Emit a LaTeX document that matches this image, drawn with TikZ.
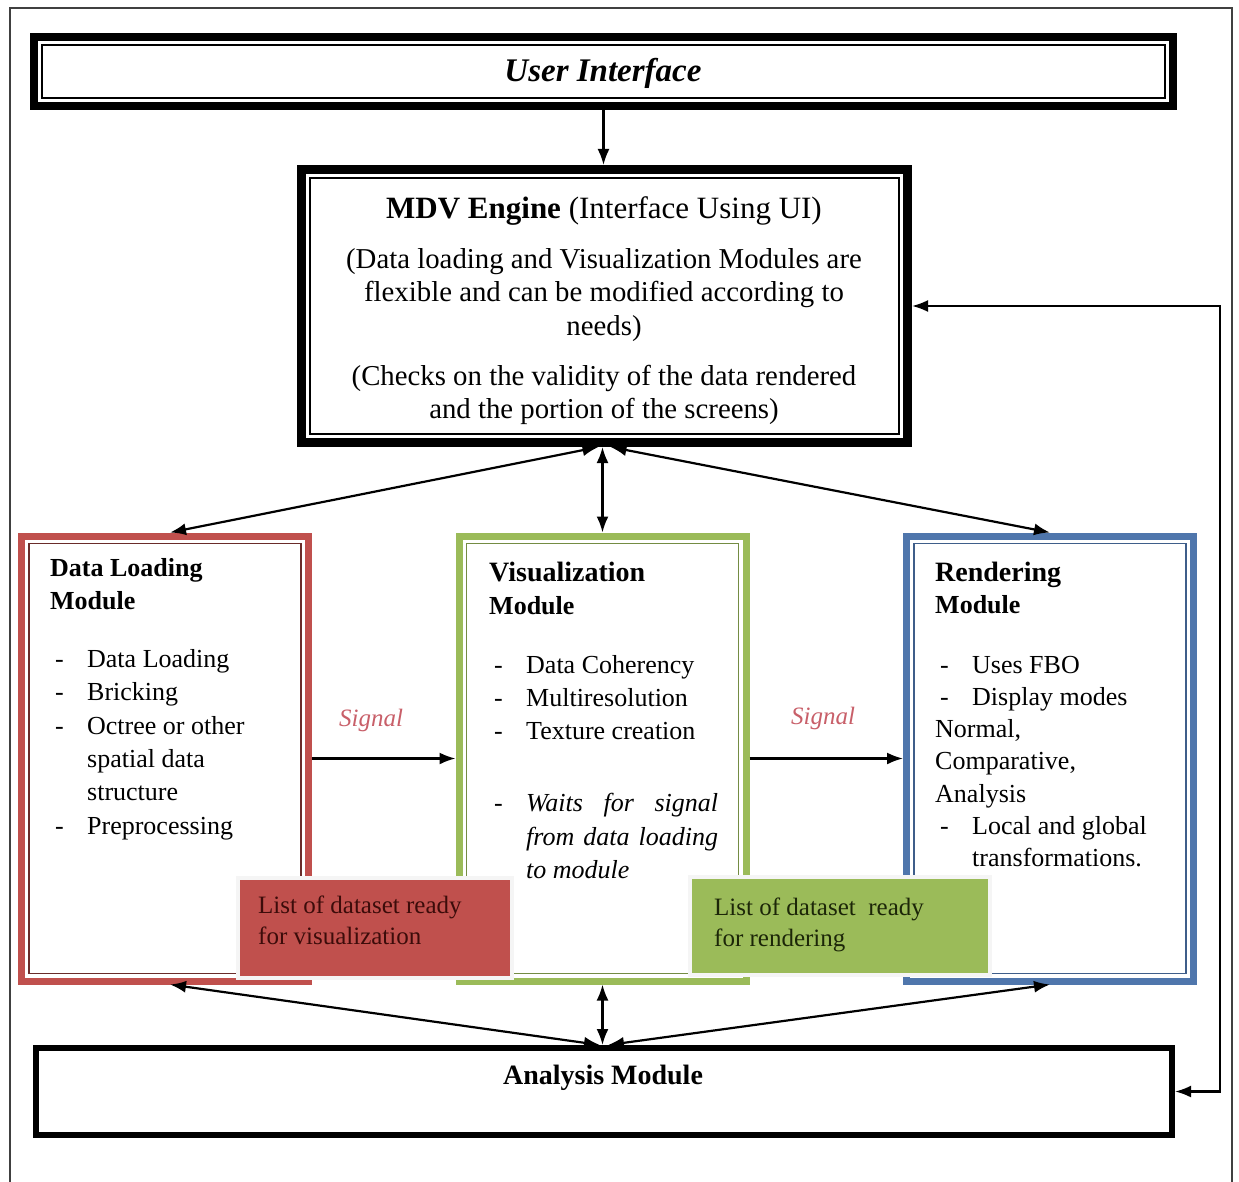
\documentclass[tikz,border=0pt]{standalone}
\usepackage{fontspec}
\setmainfont{Liberation Serif}
\usetikzlibrary{arrows.meta,calc}

\definecolor{dlred}{RGB}{192,80,77}
\definecolor{visgreen}{RGB}{155,187,89}
\definecolor{rendblue}{RGB}{79,118,172}
\definecolor{signalred}{RGB}{200,95,105}
\definecolor{redink}{RGB}{60,12,10}
\definecolor{greenink}{RGB}{28,38,8}

% list helpers: dash column and hanging indent
\newcommand\itemdash{\makebox[37pt][l]{\hspace{5pt}-}}
\newcommand\itemind{\hspace*{37pt}}

\begin{document}
\begin{tikzpicture}[x=1pt,y=-1pt,
  blackbox/.style={draw=black, fill=white, inner sep=0pt},
  module/.style={draw=#1, line width=7pt, fill=white, inner sep=0pt,
                 minimum width=287pt, minimum height=445pt},
  innerline/.style={draw=#1, line width=1.2pt},
  overlay/.style={draw=white!92!gray, line width=4pt, fill=#1, inner sep=0pt},
  bodytext/.style={inner sep=0pt, align=left, anchor=north west,
                   font=\fontsize{26}{33.4}\selectfont},
  overtext/.style={inner sep=0pt, align=left, anchor=north west,
                   font=\fontsize{25}{31.5}\selectfont},
  signal/.style={inner sep=0pt, text=signalred, font=\fontsize{25}{30}\selectfont\itshape},
  conn/.style={draw=black, line width=2.2pt},
  >={Latex[length=16pt,width=12pt]}
]
\useasboundingbox (0,0) rectangle (1239,1182);

% outer frame
\draw[draw=black!75, line width=1.3pt] (10,1182) -- (10,8) -- (1232,8) -- (1232,1182);

% user interface bar
\node[blackbox, line width=8pt, minimum width=1139pt, minimum height=69pt] (ui) at (603.5,71.5) {};
\draw[innerline=black] ([shift={(12,12)}]ui.north west) rectangle ([shift={(-12,-12)}]ui.south east);
\node[inner sep=0pt, font=\fontsize{33}{38}\selectfont\bfseries\itshape] (uitext) at (603,73) {User Interface};

% engine box
\node[blackbox, line width=9pt, minimum width=606pt, minimum height=273pt] (mdv) at (604.5,306) {};
\draw[innerline=black] ([shift={(13,13)}]mdv.north west) rectangle ([shift={(-13,-13)}]mdv.south east);
\node[inner sep=0pt, anchor=base, font=\fontsize{31}{36}\selectfont] (mdvtitle) at (604,219)
  {\textbf{MDV Engine} (Interface Using UI)};
\node[inner sep=0pt, align=center, anchor=north, font=\fontsize{28.8}{33.4}\selectfont] (mdvbody) at (604,248)
  {\rule{0pt}{20pt}(Data loading and Visualization Modules are\\
   flexible and can be modified according to\\
   needs)\\[17pt]
   (Checks on the validity of the data rendered\\
   and the portion of the screens)};

% three modules
\node[module=dlred] (dl) at (165,758.5) {};
\draw[innerline=dlred!55!black] ([shift={(11,11)}]dl.north west) rectangle ([shift={(-11,-11)}]dl.south east);
\node[module=visgreen] (vis) at (602.5,758.5) {};
\draw[innerline=visgreen!75!black] ([shift={(11,11)}]vis.north west) rectangle ([shift={(-11,-11)}]vis.south east);
\node[module=rendblue] (rend) at (1050,758.5) {};
\draw[innerline=rendblue!80!black] ([shift={(11,11)}]rend.north west) rectangle ([shift={(-11,-11)}]rend.south east);

\node[bodytext] (dltext) at (50,556)
  {\rule{0pt}{20pt}\textbf{Data Loading}\\
   \textbf{Module}\\[24.2pt]
   \itemdash Data Loading\\
   \itemdash Bricking\\
   \itemdash Octree or other\\
   \itemind spatial data\\
   \itemind structure\\
   \itemdash Preprocessing};

\node[bodytext] (vistext) at (489,561)
  {\rule{0pt}{20pt}{\fontsize{28}{33.4}\selectfont\textbf{Visualization}}\\
   \textbf{Module}\\[25pt]
   \itemdash Data Coherency\\
   \itemdash Multiresolution\\
   \itemdash Texture creation\\[38.6pt]
   \itemdash\textit{\makebox[192pt][s]{Waits for signal}}\\
   \itemind\textit{\makebox[192pt][s]{from data loading}}\\
   \itemind\textit{to module}};

\node[bodytext, font=\fontsize{26}{32.2}\selectfont] (rendtext) at (935,561)
  {\rule{0pt}{20pt}{\fontsize{28}{32.2}\selectfont\textbf{Rendering}}\\
   \textbf{Module}\\[27.6pt]
   \itemdash Uses FBO\\
   \itemdash Display modes\\
   Normal,\\
   Comparative,\\
   Analysis\\
   \itemdash Local and global\\
   \itemind transformations.};

% dataset lists laid over the module bottoms
\node[overlay=dlred, minimum width=274pt, minimum height=100pt] (redlist) at (375,928) {};
\node[overtext, text=redink] (redlisttext) at (258,893)
  {\rule{0pt}{20pt}List of dataset ready\\ for visualization};
\node[overlay=visgreen, minimum width=300pt, minimum height=98pt] (greenlist) at (840,926) {};
\node[overtext, text=greenink] (greenlisttext) at (714,895)
  {\rule{0pt}{20pt}List of dataset\ \ ready\\ for rendering};

% analysis bar
\node[blackbox, line width=6pt, minimum width=1136pt, minimum height=87pt] (ana) at (604,1091.5) {};
\node[inner sep=0pt, font=\fontsize{28}{32}\selectfont\bfseries] (anatext) at (603,1078) {Analysis Module};

% signals between modules
\node[signal] (sig1) at (371,720) {Signal};
\node[signal] (sig2) at (823,718) {Signal};
\draw[conn, ->] (dl.east) -- (vis.west);
\draw[conn, ->] (vis.east) -- (rend.west);

% connectors
\draw[conn, ->] (ui.south) -- (ui.south |- mdv.north);
\draw[conn, <->] ([xshift=-6pt]mdv.south) -- ([xshift=5pt]dl.north);
\draw[conn, <->] (mdv.south -| vis.north) -- (vis.north);
\draw[conn, <->] ([xshift=6pt]mdv.south) -- (rend.north);

\draw[conn, <->] ([xshift=-4pt]ana.north) -- ([xshift=5pt]dl.south);
\draw[conn, <->] (vis.south |- ana.north) -- (vis.south);
\draw[conn, <->] ([xshift=4pt]ana.north) -- (rend.south);

% feedback loop along the right side
\coordinate (fbx) at (1220,0);
\draw[conn, <->] (mdv.east) -- (mdv.east -| fbx) |- (ana.east);
\end{tikzpicture}
\end{document}
